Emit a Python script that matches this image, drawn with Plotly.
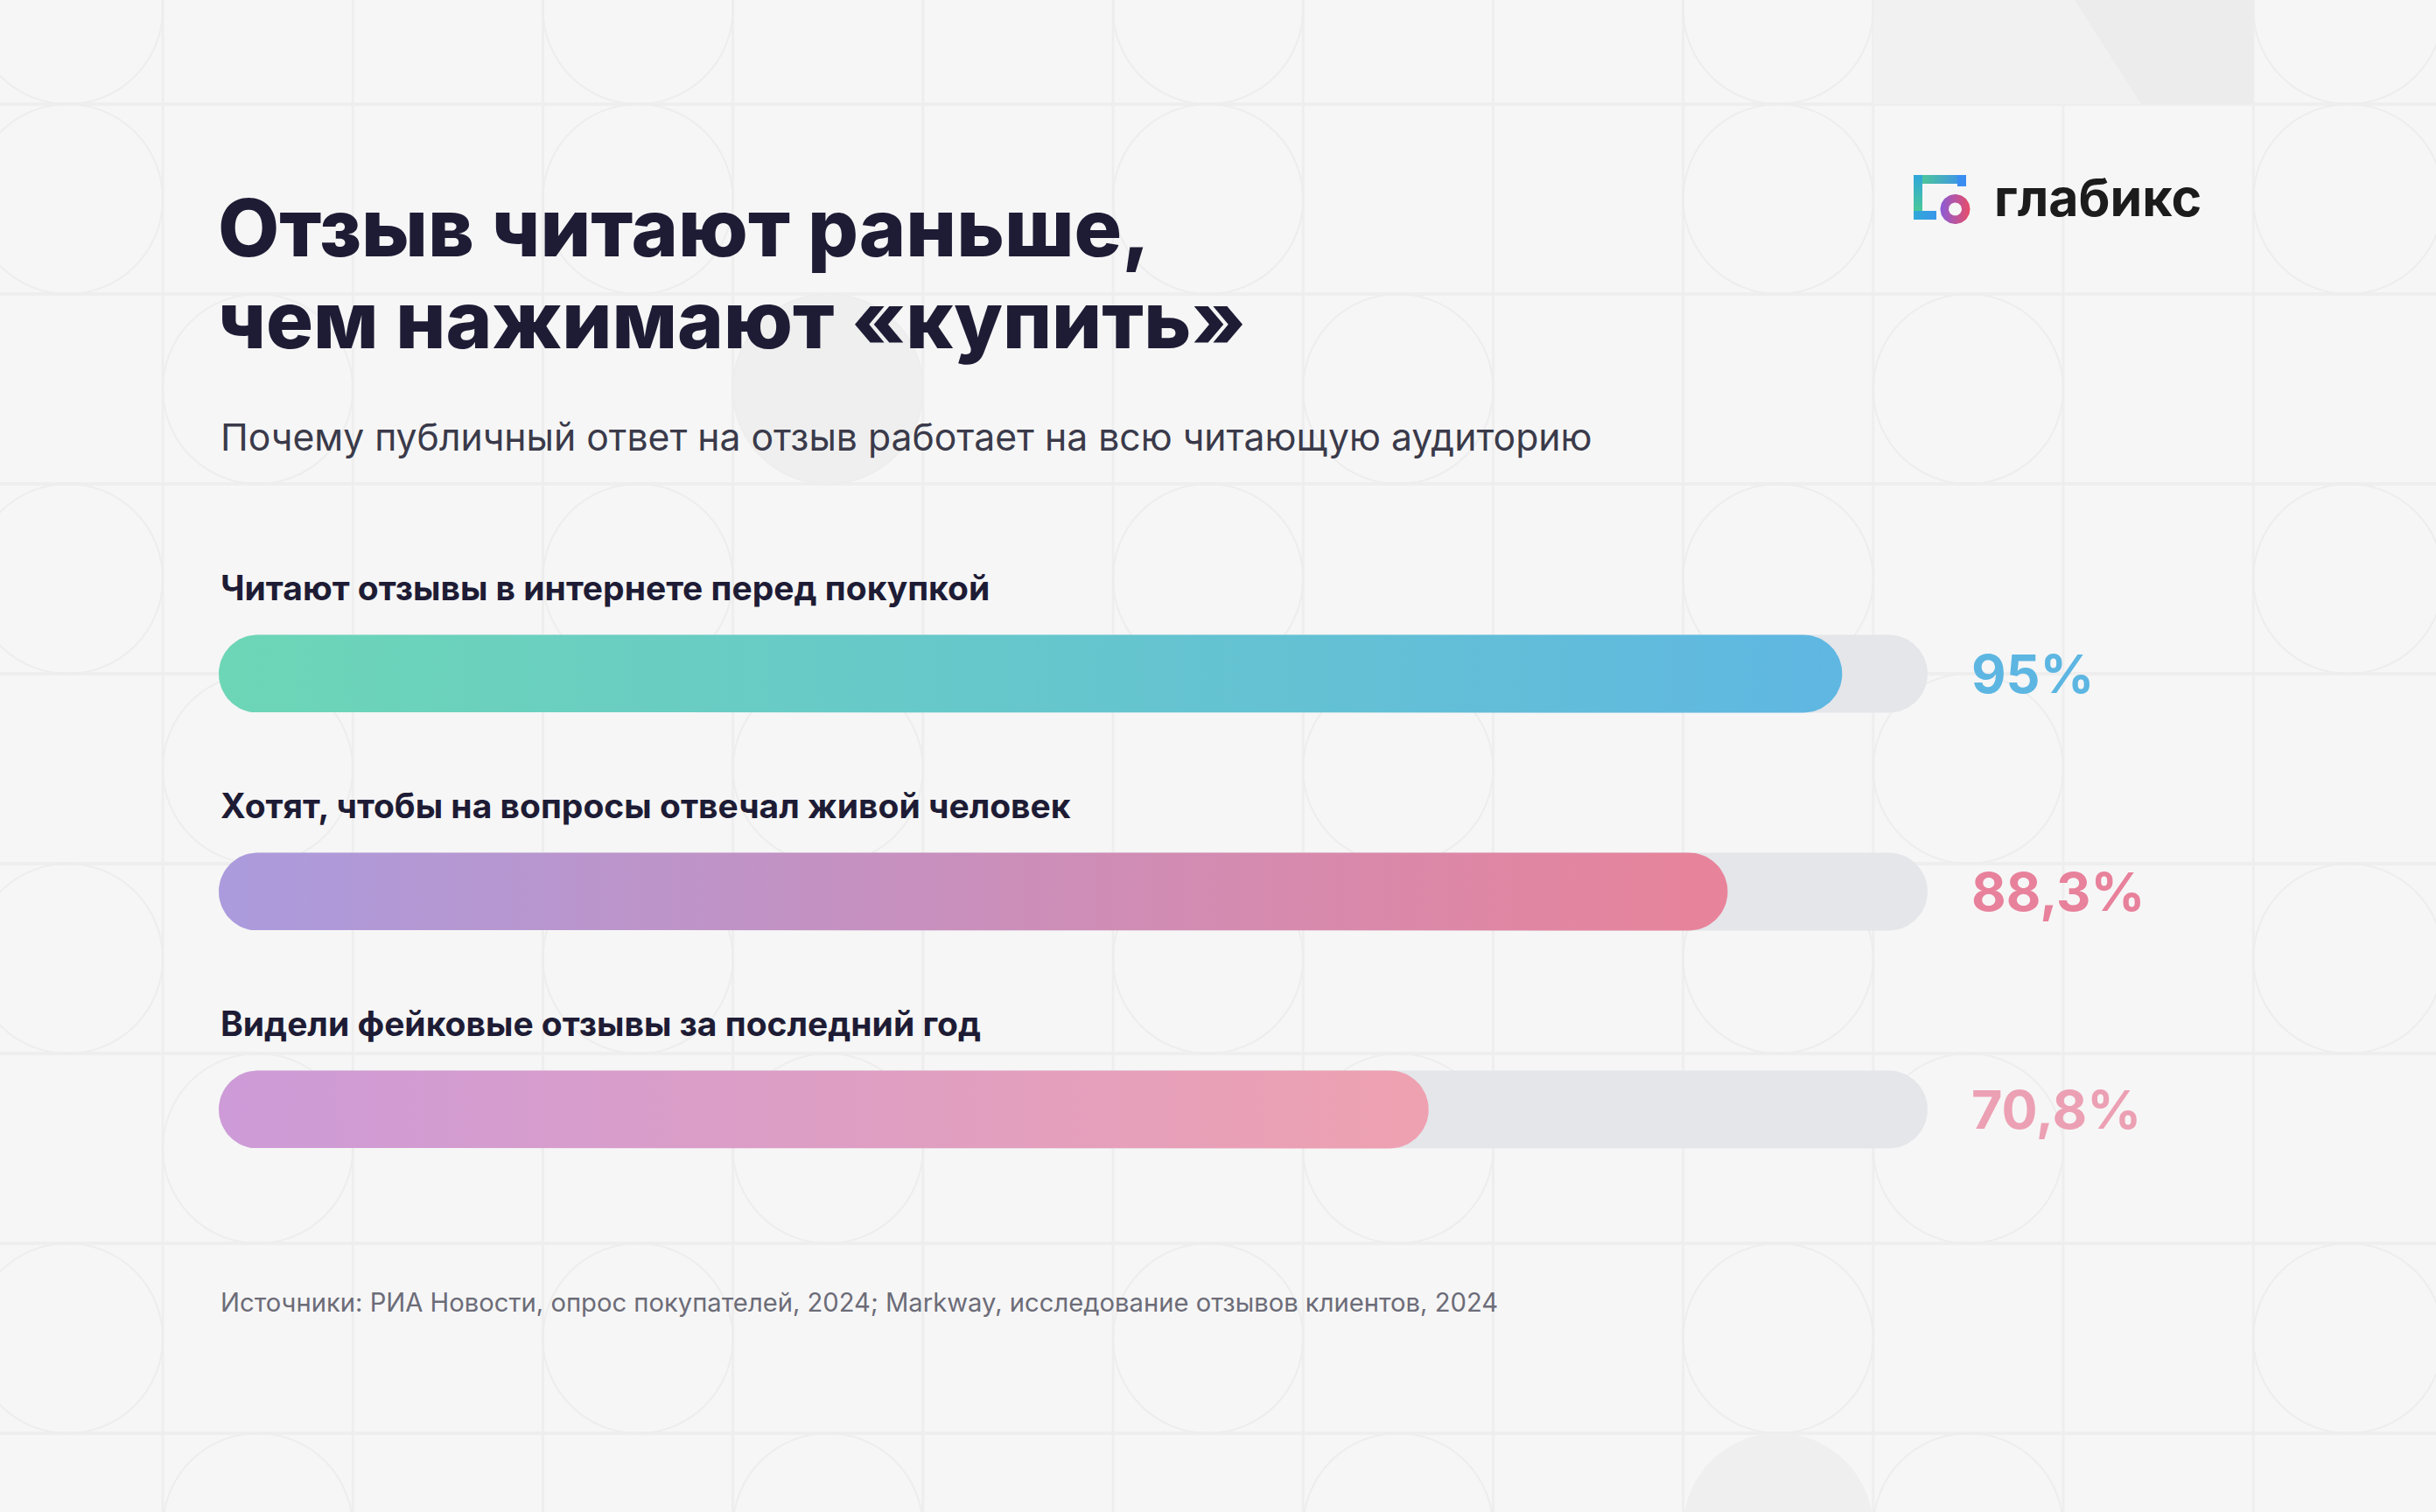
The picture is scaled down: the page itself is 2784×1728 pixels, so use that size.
import numpy as np
import plotly.graph_objects as go

W, H = 2784, 1728

# ---------------- data ----------------
categories = [
    "Читают отзывы в интернете перед покупкой",
    "Хотят, чтобы на вопросы отвечал живой человек",
    "Видели фейковые отзывы за последний год",
]
values = [95.0, 88.3, 70.8]
grad_start = ["#6dd6b6", "#ab9bdd", "#cd9bd8"]
grad_end = ["#5fb7e2", "#e8839a", "#eea1b0"]
value_colors = ["#5db6e2", "#e8819b", "#eca0b3"]

title_lines = ["Отзыв читают раньше,", "чем нажимают «купить»"]
subtitle = "Почему публичный ответ на отзыв работает на всю читающую аудиторию"
source = "Источники: РИА Новости, опрос покупателей, 2024; Markway, исследование отзывов клиентов, 2024"
brand = "глабикс"

# ---------------- layout constants (pixels) ----------------
BG = "#f6f6f6"
DARK = "#1e1c35"
FONT = "Inter"
track_x0, track_x1 = 250, 2203
row0_y, row_step = 770, 249
bar_half = 44.5
px_per_unit = (track_x1 - track_x0) / 100.0

y_top = -row0_y / row_step
y_bot = (H - row0_y) / row_step


def px(x):
    return x / W


def py(y):
    return 1 - y / H


fig = go.Figure()

# ---------------- background decoration (shapes below) ----------------
shapes = []
col_x = [186 + 217.2 * k for k in range(-1, 13)]
row_y = [119 + 217.0 * k for k in range(-1, 9)]
line_col = "#eeeeee"
for x in col_x[1:]:
    shapes.append(dict(type="line", xref="paper", yref="paper", x0=px(x), x1=px(x),
                       y0=0, y1=1, line=dict(color=line_col, width=3), layer="below"))
for y in row_y[1:]:
    shapes.append(dict(type="line", xref="paper", yref="paper", x0=0, x1=1,
                       y0=py(y), y1=py(y), line=dict(color=line_col, width=4), layer="below"))

# filled light shapes
shapes.append(dict(type="rect", xref="paper", yref="paper", x0=px(2141), x1=px(2575),
                   y0=py(119), y1=py(0), fillcolor="#f1f1f1", line=dict(width=0), layer="below"))
shapes.append(dict(type="path", xref="paper", yref="paper",
                   path=f"M {px(2371)} {py(0)} L {px(2575)} {py(0)} L {px(2575)} {py(119)} L {px(2447)} {py(119)} Z",
                   fillcolor="#ececec", line=dict(width=0), layer="below"))
for (c, r) in [(4, 2), (9, 8)]:
    x0, x1 = col_x[c], col_x[c + 1]
    y0, y1 = row_y[r], row_y[r + 1]
    shapes.append(dict(type="circle", xref="paper", yref="paper", x0=px(x0), x1=px(x1),
                       y0=py(y1), y1=py(y0), fillcolor="#efefef", line=dict(width=0), layer="below"))

circle_cells = []
for r in [0, 1, 3, 5, 7]:
    for c in [0, 3, 6, 9, 12]:
        circle_cells.append((c, r))
for r in [2, 4, 6, 8]:
    for c in [1, 4, 7, 10]:
        circle_cells.append((c, r))
for (c, r) in circle_cells:
    x0, x1 = col_x[c], col_x[c + 1]
    y0, y1 = row_y[r], row_y[r + 1]
    shapes.append(dict(type="circle", xref="paper", yref="paper", x0=px(x0), x1=px(x1),
                       y0=py(y1), y1=py(y0), line=dict(color="#ededed", width=2), layer="below"))

# ---------------- bars ----------------
rx = bar_half / px_per_unit
ry = bar_half / row_step


def pill(v, yc):
    t1 = np.linspace(-np.pi / 2, np.pi / 2, 40)
    t2 = np.linspace(np.pi / 2, 3 * np.pi / 2, 40)
    xs = np.concatenate([(v - rx) + rx * np.cos(t1), rx + rx * np.cos(t2)])
    ys = np.concatenate([yc + ry * np.sin(t1), yc + ry * np.sin(t2)])
    return np.append(xs, xs[0]), np.append(ys, ys[0])


for i, (cat, v) in enumerate(zip(categories, values)):
    tx, ty = pill(100, i)
    fig.add_trace(go.Scatter(x=tx, y=ty, xaxis="x2", yaxis="y2", mode="lines",
                             fill="toself", fillcolor="#e4e6ea", line=dict(width=0),
                             hoverinfo="skip", showlegend=False))
    bx, by = pill(v, i)
    fig.add_trace(go.Scatter(x=bx, y=by, xaxis="x2", yaxis="y2", mode="lines",
                             fill="toself", line=dict(width=0),
                             fillgradient=dict(type="horizontal",
                                               colorscale=[[0, grad_start[i]], [1, grad_end[i]]]),
                             name=cat, hovertemplate=f"{cat}: {v:g}%<extra></extra>",
                             showlegend=False))

# ---------------- logo ----------------
def rect_poly(x0, y0, x1, y1):
    return [x0, x1, x1, x0, x0], [y0, y0, y1, y1, y0]


logo_parts = [
    ((2187, 200, 2247, 210), "horizontal", ["#52d089", "#3a8ef2"]),
    ((2187, 200, 2197, 251), "vertical", ["#52d089", "#2fa6dc"]),
    ((2187, 241, 2213, 251), "horizontal", ["#30a9d8", "#3a96ea"]),
    ((2237, 200, 2247, 213), "vertical", ["#3a8ef2", "#3a8ef2"]),
]
for (x0, y0, x1, y1), gtype, cols in logo_parts:
    lx, ly = rect_poly(x0, y0, x1, y1)
    fig.add_trace(go.Scatter(x=lx, y=ly, xaxis="x", yaxis="y", mode="lines", fill="toself",
                             line=dict(width=0),
                             fillgradient=dict(type=gtype, colorscale=[[0, cols[0]], [1, cols[1]]]),
                             hoverinfo="skip", showlegend=False))

cx, cy, ro, ri = 2234.5, 239, 17, 7.5
t = np.linspace(0, 2 * np.pi, 80)
ring_x = np.concatenate([cx + ro * np.cos(t), cx + ri * np.cos(t[::-1])])
ring_y = np.concatenate([cy + ro * np.sin(t), cy + ri * np.sin(t[::-1])])
fig.add_trace(go.Scatter(x=ring_x, y=ring_y, xaxis="x", yaxis="y", mode="lines", fill="toself",
                         line=dict(width=0),
                         fillgradient=dict(type="horizontal",
                                           colorscale=[[0, "#8a5cd8"], [1, "#e84d68"]]),
                         hoverinfo="skip", showlegend=False))

# ---------------- annotations ----------------
ann = []
ann.append(dict(text=title_lines[0], x=px(247), y=py(260), xref="paper", yref="paper",
                xanchor="left", yanchor="middle", showarrow=False,
                font=dict(family=FONT, size=91, color=DARK, weight=800)))
ann.append(dict(text=title_lines[1], x=px(247), y=py(365), xref="paper", yref="paper",
                xanchor="left", yanchor="middle", showarrow=False,
                font=dict(family=FONT, size=90, color=DARK, weight=800)))
ann.append(dict(text=subtitle, x=px(250), y=py(499), xref="paper", yref="paper",
                xanchor="left", yanchor="middle", showarrow=False,
                font=dict(family=FONT, size=42.7, color="#3a3a4a")))
ann.append(dict(text=source, x=px(250), y=py(1488), xref="paper", yref="paper",
                xanchor="left", yanchor="middle", showarrow=False,
                font=dict(family=FONT, size=29.2, color="#6c6c78")))
ann.append(dict(text=f"<b>{brand}</b>", x=px(2277), y=py(226), xref="paper", yref="paper",
                xanchor="left", yanchor="middle", showarrow=False,
                font=dict(family=FONT, size=59, color="#1c1c1c")))

label_offset = 99 / row_step
for i, (cat, v) in enumerate(zip(categories, values)):
    ann.append(dict(text=f"<b>{cat}</b>", x=px(250), y=i - label_offset, xref="paper", yref="y2",
                    xanchor="left", yanchor="middle", showarrow=False,
                    font=dict(family=FONT, size=39, color=DARK)))
    vtxt = f"{v:g}".replace(".", ",") + "%"
    ann.append(dict(text=f"<b>{vtxt}</b>", x=px(2251), y=i, xref="paper", yref="y2",
                    xanchor="left", yanchor="middle", showarrow=False,
                    font=dict(family=FONT, size=61, color=value_colors[i])))

fig.update_layout(
    width=W, height=H,
    margin=dict(l=0, r=0, t=0, b=0),
    paper_bgcolor=BG, plot_bgcolor="rgba(0,0,0,0)",
    shapes=shapes, annotations=ann,
    xaxis=dict(domain=[0, 1], range=[0, W], visible=False, fixedrange=True),
    yaxis=dict(domain=[0, 1], range=[H, 0], visible=False, fixedrange=True),
    xaxis2=dict(domain=[px(track_x0), px(track_x1)], range=[0, 100], visible=False,
                anchor="y2", fixedrange=True),
    yaxis2=dict(domain=[0, 1], range=[y_bot, y_top], visible=False, anchor="x2",
                fixedrange=True),
    showlegend=False,
)

fig.write_html("out.html")
